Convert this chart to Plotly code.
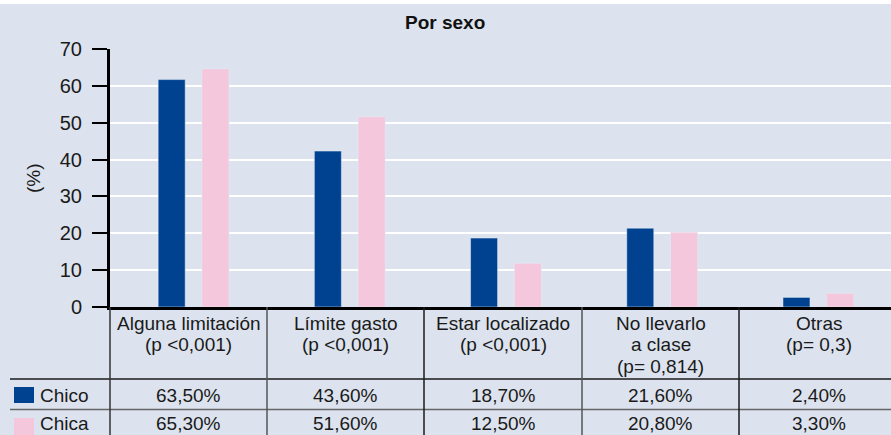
import plotly.graph_objects as go

# ---------------- data ----------------
categories = ["Alguna limitación", "Límite gasto", "Estar localizado", "No llevarlo\na clase", "Otras"]
pvalues = ["(p <0,001)", "(p <0,001)", "(p <0,001)", "(p= 0,814)", "(p= 0,3)"]
series_names = ["Chico", "Chica"]
chico_values = [61.7, 42.3, 18.7, 21.4, 2.6]
chica_values = [64.6, 51.6, 11.9, 20.3, 3.7]
chico_table = ["63,50%", "43,60%", "18,70%", "21,60%", "2,40%"]
chica_table = ["65,30%", "51,60%", "12,50%", "20,80%", "3,30%"]
y_ticks = [0, 10, 20, 30, 40, 50, 60, 70]
title_text = "Por sexo"
y_title = "(%)"

# ---------------- style ----------------
W, H = 891, 435
L, R, T, B = 110, 0, 49, 128
BG = "#DCE3EE"
BLUE = "#00428F"
PINK = "#F5C7DC"
FONT = "Liberation Sans"
PW = W - L - R
PH = H - T - B


def px(xp):
    return (xp - L) / PW


def py(yp):
    return (H - B - yp) / PH


x_idx = list(range(len(categories)))
cat_px = 156.2
bar_w = 27 / cat_px

fig = go.Figure()
fig.add_trace(go.Bar(x=x_idx, y=chico_values, name=series_names[0], marker_color=BLUE,
                     width=bar_w, offset=-35.4 / cat_px, showlegend=False, hoverinfo="skip"))
fig.add_trace(go.Bar(x=x_idx, y=chica_values, name=series_names[1], marker_color=PINK,
                     width=bar_w, offset=8.4 / cat_px, showlegend=False, hoverinfo="skip"))

shapes = []
annotations = []

# white strip at the top
shapes.append(dict(type="rect", xref="paper", yref="paper", x0=px(-2), x1=px(W + 2), y0=py(4), y1=py(-2),
                   fillcolor="white", line_width=0, layer="above"))

# table grid
shapes.append(dict(type="line", xref="paper", yref="paper", x0=px(10), x1=px(W + 5), y0=py(379), y1=py(379),
                   line=dict(color="#1a1a1a", width=1.5)))
shapes.append(dict(type="line", xref="paper", yref="paper", x0=px(10), x1=px(W + 5), y0=py(409.5), y1=py(409.5),
                   line=dict(color="#666666", width=1.5)))
col_lines = [(110, "#333333"), (267, "#555555"), (424, "#1a1a1a"), (582, "#555555"), (739, "#1a1a1a")]
for xl, c in col_lines:
    shapes.append(dict(type="line", xref="paper", yref="paper", x0=px(xl), x1=px(xl), y0=py(307), y1=py(H + 5),
                       line=dict(color=c, width=1.5)))

col_centers = [188.5, 345.5, 503, 660.5, 819]
line_gap = 21.5
for i, cx in enumerate(col_centers):
    lines = categories[i].split("\n") + [pvalues[i]]
    for j, t in enumerate(lines):
        annotations.append(dict(xref="paper", yref="paper", x=px(cx), y=py(323 + j * line_gap), text=t,
                                showarrow=False, xanchor="center", yanchor="middle",
                                font=dict(family=FONT, size=19, color="#1a1a1a")))
    annotations.append(dict(xref="paper", yref="paper", x=px(cx), y=py(395), text=chico_table[i],
                            showarrow=False, xanchor="center", yanchor="middle",
                            font=dict(family=FONT, size=19, color="#1a1a1a")))
    annotations.append(dict(xref="paper", yref="paper", x=px(cx), y=py(423.5), text=chica_table[i],
                            showarrow=False, xanchor="center", yanchor="middle",
                            font=dict(family=FONT, size=19, color="#1a1a1a")))

# legend keys inside the table
for name, color, yc, y0, y1 in [(series_names[0], BLUE, 395, 387, 403), (series_names[1], PINK, 423.5, 418, 436)]:
    shapes.append(dict(type="rect", xref="paper", yref="paper", x0=px(14), x1=px(34), y0=py(y1), y1=py(y0),
                       fillcolor=color, line_width=0))
    annotations.append(dict(xref="paper", yref="paper", x=px(38), y=py(yc), text=name, showarrow=False,
                            xanchor="left", yanchor="middle",
                            font=dict(family=FONT, size=19, color="#1a1a1a")))

# title
annotations.append(dict(xref="paper", yref="paper", x=px(445), y=py(22), text="<b>" + title_text + "</b>",
                        showarrow=False, xanchor="center", yanchor="middle",
                        font=dict(family=FONT, size=19, color="#111111")))
# y title
annotations.append(dict(xref="paper", yref="paper", x=px(33), y=py(178), text=y_title, showarrow=False,
                        textangle=-90, xanchor="center", yanchor="middle",
                        font=dict(family=FONT, size=19, color="#1a1a1a")))

fig.update_layout(
    width=W, height=H,
    margin=dict(l=L, r=R, t=T, b=B, pad=0),
    paper_bgcolor=BG, plot_bgcolor=BG,
    barmode="group",
    shapes=shapes, annotations=annotations,
    showlegend=False,
)
fig.update_xaxes(range=[-0.535, -0.535 + PW / cat_px], showticklabels=False, ticks="",
                 showgrid=False, zeroline=False, showline=True, linecolor="black", linewidth=3)
fig.update_yaxes(range=[0, 70], tickvals=y_ticks, showgrid=True, gridcolor="white", gridwidth=2,
                 zeroline=False, showline=True, linecolor="black", linewidth=3,
                 ticks="outside", ticklen=15, tickwidth=1.5, tickcolor="black",
                 ticklabelstandoff=6,
                 tickfont=dict(family=FONT, size=20, color="#1a1a1a"))

fig.write_html("out.html", config={"displayModeBar": False},
               post_script="document.body.style.margin='0';document.body.style.overflow='hidden';")
